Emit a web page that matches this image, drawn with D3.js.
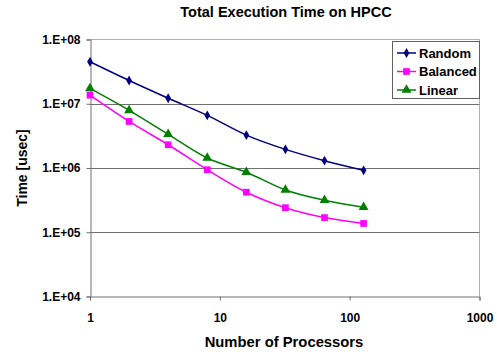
<!DOCTYPE html>
<html>
<head>
<meta charset="utf-8">
<script src="https://cdn.jsdelivr.net/npm/d3@7"></script>
<style>
  body { margin: 0; background: #fff; }
  text { font-family: "Liberation Sans", Arial, sans-serif; font-weight: bold; }
</style>
</head>
<body>
<div id="chart"></div>
<script>
// data
const processors = [1, 2, 4, 8, 16, 32, 64, 128];
const randomTimes = [4.5e7, 2.3e7, 1.22e7, 6.6e6, 3.25e6, 1.95e6, 1.3e6, 9.2e5];
const balancedTimes = [1.36e7, 5.3e6, 2.3e6, 9.4e5, 4.2e5, 2.41e5, 1.69e5, 1.37e5];
const linearTimes = [1.73e7, 7.9e6, 3.35e6, 1.43e6, 8.6e5, 4.55e5, 3.15e5, 2.45e5];
const xTicks = [1, 10, 100, 1000];
const yTicks = [1e4, 1e5, 1e6, 1e7, 1e8];

const series = [
  { name: "Random", values: randomTimes, color: "#000080", marker: "diamond" },
  { name: "Balanced", values: balancedTimes, color: "#FF00FF", marker: "square" },
  { name: "Linear", values: linearTimes, color: "#008000", marker: "triangle" }
];

const width = 497, height = 354;
const svg = d3.select("#chart").append("svg")
  .attr("width", width)
  .attr("height", height);

const xScale = d3.scaleLog().domain([1, 1000]).range([90, 479.5]);
const yScale = d3.scaleLog().domain([1e4, 1e8]).range([296.5, 39.5]);

// plot frame (top + right edges light gray)
svg.append("path")
  .attr("d", `M90,39.5H479.5V296.5`)
  .attr("fill", "none")
  .attr("stroke", "#b0b0b0");

// gridlines
svg.append("g")
  .selectAll("line")
  .data(yTicks.slice(1, 4))
  .enter().append("line")
  .attr("x1", 90).attr("x2", 479.5)
  .attr("y1", d => Math.round(yScale(d)) + 0.5)
  .attr("y2", d => Math.round(yScale(d)) + 0.5)
  .attr("stroke", "#707070");

// axes
const yAxis = d3.axisLeft(yScale)
  .tickValues(yTicks)
  .tickSize(4)
  .tickPadding(6)
  .tickFormat(d => "1.E+" + String(Math.round(Math.log10(d))).padStart(2, "0"));

const xAxis = d3.axisBottom(xScale)
  .tickValues(xTicks)
  .tickSize(4)
  .tickPadding(13)
  .tickFormat(d3.format("d"));

const gy = svg.append("g")
  .attr("transform", "translate(90.5,0)")
  .call(yAxis);
gy.select(".domain").attr("stroke", "#707070");
gy.selectAll(".tick line").attr("stroke", "#707070");
gy.selectAll("text").attr("font-size", 12).attr("fill", "#000")
  .style("font-family", "'Liberation Sans', Arial, sans-serif");

const gx = svg.append("g")
  .attr("transform", "translate(0,296.5)")
  .call(xAxis);
gx.select(".domain").attr("stroke", "#707070");
gx.selectAll(".tick line").attr("stroke", "#707070");
gx.selectAll("text").attr("font-size", 12).attr("fill", "#000")
  .style("font-family", "'Liberation Sans', Arial, sans-serif");

// lines and markers
const line = d3.line()
  .x((d, i) => xScale(processors[i]))
  .y(d => yScale(d));

const symbolFor = {
  diamond: d3.symbol().type(d3.symbolDiamond).size(28),
  square: d3.symbol().type(d3.symbolSquare).size(45),
  triangle: d3.symbol().type(d3.symbolTriangle).size(42)
};

series.forEach(s => {
  svg.append("path")
    .datum(s.values)
    .attr("d", line.curve(d3.curveMonotoneX))
    .attr("fill", "none")
    .attr("stroke", s.color)
    .attr("stroke-width", 1.5);

  svg.append("g")
    .selectAll("path")
    .data(s.values)
    .enter().append("path")
    .attr("transform", (d, i) => `translate(${xScale(processors[i])},${yScale(d)})`)
    .attr("d", symbolFor[s.marker]())
    .attr("fill", s.color);
});

// legend
const legend = svg.append("g");
legend.append("rect")
  .attr("x", 392.5).attr("y", 41.5)
  .attr("width", 87).attr("height", 57)
  .attr("fill", "#fff")
  .attr("stroke", "#606060");

series.forEach((s, i) => {
  const ly = 53 + i * 18.5;
  legend.append("line")
    .attr("x1", 397).attr("x2", 416)
    .attr("y1", ly).attr("y2", ly)
    .attr("stroke", s.color)
    .attr("stroke-width", 1.5);
  legend.append("path")
    .attr("transform", `translate(406.5,${ly})`)
    .attr("d", symbolFor[s.marker]())
    .attr("fill", s.color);
  legend.append("text")
    .attr("x", 419).attr("y", ly + 4.5)
    .attr("font-size", 13)
    .text(s.name);
});

// titles
svg.append("text")
  .attr("x", 286).attr("y", 17)
  .attr("text-anchor", "middle")
  .attr("font-size", 14.5)
  .text("Total Execution Time on HPCC");

svg.append("text")
  .attr("x", 284).attr("y", 347)
  .attr("text-anchor", "middle")
  .attr("font-size", 14.8)
  .text("Number of Processors");

svg.append("text")
  .attr("transform", "translate(27,168) rotate(-90)")
  .attr("text-anchor", "middle")
  .attr("font-size", 14)
  .text("Time [usec]");
</script>
</body>
</html>
